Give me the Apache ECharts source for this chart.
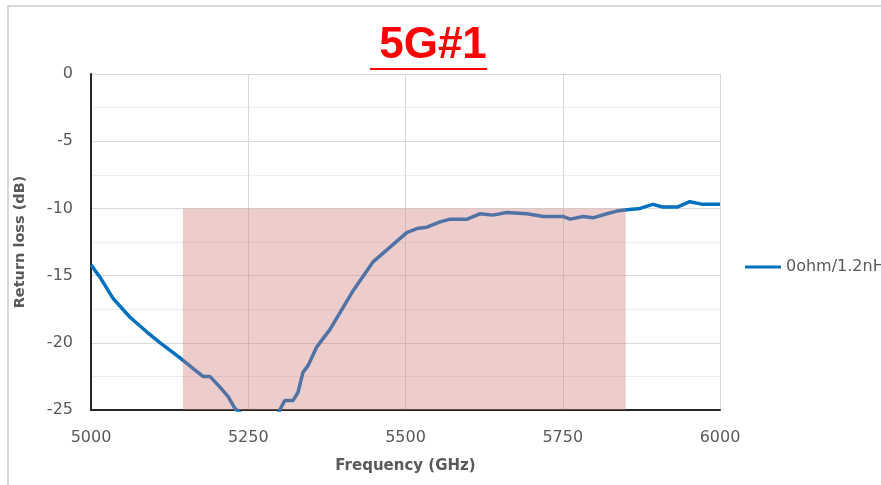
<!DOCTYPE html>
<html><head><meta charset="utf-8">
<script src="https://cdn.jsdelivr.net/npm/echarts@6/dist/echarts.min.js"></script>
<style>
html,body{margin:0;padding:0;background:#fff;overflow:hidden}
#frame{position:absolute;left:7px;top:5px;width:900px;height:500px;border-left:2px solid #d9d9d9;border-top:2px solid #d9d9d9}
#c{position:absolute;left:0;top:0;width:881px;height:485px}
</style></head>
<body>
<div id="frame"></div>
<div id="c"></div>
<script>
const seriesName = '0ohm/1.2nH';
const freq = [5000,5014,5035,5062,5089,5110,5141,5162,5178,5189,5205,5218,5229,5237,5250,5270,5290,5300,5308,5321,5329,5337,5345,5359,5380,5417,5448,5475,5502,5518,5534,5555,5571,5598,5618,5639,5661,5693,5719,5750,5762,5782,5798,5820,5836,5852,5873,5893,5909,5932,5952,5973,6000];
const rl   = [-14.2,-15.1,-16.7,-18.1,-19.2,-20.0,-21.1,-21.9,-22.5,-22.5,-23.3,-24.0,-24.9,-25.2,-26.0,-27.0,-26.5,-25.0,-24.3,-24.3,-23.7,-22.2,-21.7,-20.3,-19.0,-16.1,-14.0,-12.9,-11.8,-11.5,-11.4,-11.0,-10.8,-10.8,-10.4,-10.5,-10.3,-10.4,-10.6,-10.6,-10.8,-10.6,-10.7,-10.4,-10.2,-10.1,-10.0,-9.7,-9.9,-9.9,-9.5,-9.7,-9.7];
const bandX = [5146, 5850];
const bandTop = [-10, -10];
const xTicks = [5000,5250,5500,5750,6000];
const yTicks = [0,-5,-10,-15,-20,-25];

const chart = echarts.init(document.getElementById('c'));
const lab = {color:'#595959', fontSize:16, fontFamily:'DejaVu Sans, sans-serif'};
chart.setOption({
  animation:false,
  title:{text:'5G#1', left:428, textAlign:'center', top:19,
    textStyle:{color:'#ff0000', fontSize:44, fontWeight:'bold', fontFamily:'Liberation Sans, Arial, sans-serif'}},
  graphic:[{type:'rect', shape:{x:370,y:68,width:117,height:2}, style:{fill:'#ff0000'}}],
  grid:{left:91, right:161, top:74, bottom:75},
  legend:{data:[seriesName], left:740, top:254, itemWidth:36, itemHeight:3,
    icon:'rect', textStyle:lab},
  xAxis:{type:'value', min:5000, max:6000, interval:250,
    name:'Frequency (GHz)', nameLocation:'middle', nameGap:49,
    nameTextStyle:{color:'#595959', fontSize:15, fontWeight:'bold', fontFamily:'DejaVu Sans, sans-serif'},
    axisLine:{show:true, onZero:false, lineStyle:{color:'#262626', width:2}},
    axisTick:{show:false},
    axisLabel:Object.assign({margin:20, formatter:v=>xTicks.includes(v)?String(v):''}, lab),
    splitLine:{show:true, lineStyle:{color:'#d9d9d9', width:1}}},
  yAxis:{type:'value', min:-25, max:0, interval:5,
    name:'Return loss (dB)', nameLocation:'middle', nameGap:63, nameRotate:90,
    nameTextStyle:{color:'#595959', fontSize:14.5, fontWeight:'bold', fontFamily:'DejaVu Sans, sans-serif'},
    axisLine:{show:true, onZero:false, lineStyle:{color:'#262626', width:2}},
    axisTick:{show:false},
    axisLabel:Object.assign({margin:18, formatter:v=>yTicks.includes(v)?String(v):''}, lab),
    splitLine:{show:true, lineStyle:{color:'#d9d9d9', width:1}},
    minorTick:{show:false, splitNumber:2},
    minorSplitLine:{show:true, lineStyle:{color:'#eeeeee', width:1}}},
  series:[
    {name:seriesName, type:'line', data:freq.map((f,i)=>[f,rl[i]]), showSymbol:false, symbol:'none',
     clip:true, z:2, lineStyle:{color:'#0070c0', width:3.5}, itemStyle:{color:'#0070c0'}},
    {name:'band', type:'line', data:bandX.map((f,i)=>[f,bandTop[i]]), z:5, silent:true,
     showSymbol:false, symbol:'none', lineStyle:{width:0},
     areaStyle:{origin:'start', color:'rgba(208,120,120,0.38)', opacity:1}}
  ]
});
</script>
</body></html>
